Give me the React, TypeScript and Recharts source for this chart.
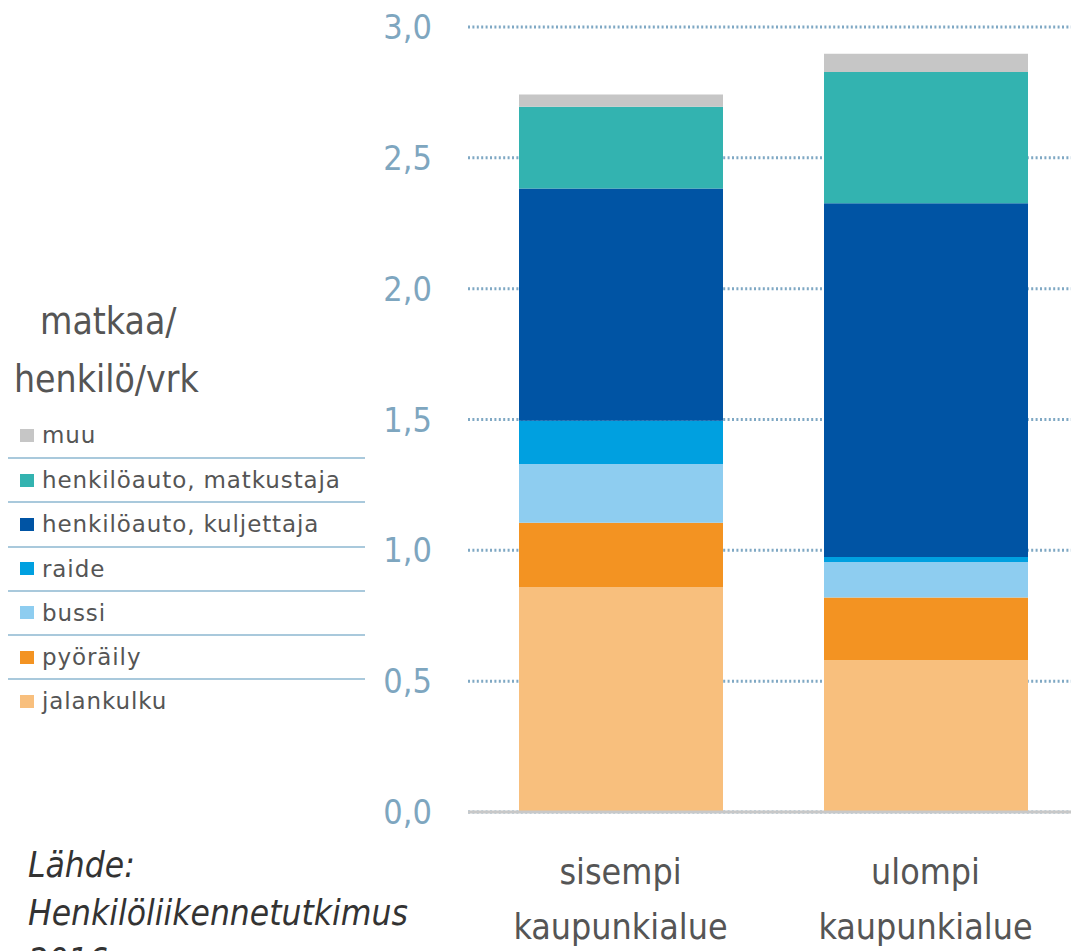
import React from "react";
import { Bar, BarChart, CartesianGrid, XAxis, YAxis } from "recharts";

const categories = ["sisempi kaupunkialue", "ulompi kaupunkialue"];
const jalankulku = [0.86, 0.58];
const pyoraily = [0.245, 0.24];
const bussi = [0.225, 0.135];
const raide = [0.165, 0.02];
const kuljettaja = [0.888, 1.351];
const matkustaja = [0.312, 0.502];
const muu = [0.047, 0.07];
const yTicks = [0, 0.5, 1, 1.5, 2, 2.5, 3];

const series = [
  { key: "jalankulku", name: "jalankulku", values: jalankulku, color: "#f8bf7d" },
  { key: "pyoraily", name: "pyöräily", values: pyoraily, color: "#f39322" },
  { key: "bussi", name: "bussi", values: bussi, color: "#8ecdf0" },
  { key: "raide", name: "raide", values: raide, color: "#00a0e0" },
  { key: "kuljettaja", name: "henkilöauto, kuljettaja", values: kuljettaja, color: "#0054a4" },
  { key: "matkustaja", name: "henkilöauto, matkustaja", values: matkustaja, color: "#33b3b0" },
  { key: "muu", name: "muu", values: muu, color: "#c6c6c6" },
];

const data = categories.map((cat, i) => {
  const row: Record<string, string | number> = { cat };
  series.forEach((s) => (row[s.key] = s.values[i]));
  return row;
});

const narrow = "'DejaVu Sans Condensed', 'DejaVu Sans', sans-serif";

function YTick({ x, y, payload }: any) {
  return (
    <text x={x} y={y} dy={12} textAnchor="end" fontFamily={narrow} fontStretch="condensed" fontSize={34} fill="#7ea6bf">
      {payload.value.toFixed(1).replace(".", ",")}
    </text>
  );
}

function XTick({ x, y, payload }: any) {
  const lines = String(payload.value).split(" ");
  return (
    <text x={x} y={y} textAnchor="middle" fontFamily={narrow} fontStretch="condensed" fontSize={35.5} fill="#555">
      {lines.map((l, i) => (
        <tspan key={i} x={x} dy={i === 0 ? 64 : 55}>
          {l}
        </tspan>
      ))}
    </text>
  );
}

function LegendBox() {
  const items = [...series].reverse();
  return (
    <div style={{ position: "absolute", left: 8, top: 413, width: 357 }}>
      {items.map((s, i) => (
        <div
          key={s.key}
          style={{
            height: 44.2,
            boxSizing: "border-box",
            borderTop: i === 0 ? "none" : "2px solid #a9c9dc",
            display: "flex",
            alignItems: "center",
            paddingLeft: 12,
            fontFamily: "'DejaVu Sans', sans-serif",
            fontSize: 23,
            letterSpacing: 0.9,
            color: "#555",
          }}
        >
          <span style={{ width: 14, height: 13, background: s.color, marginRight: 8, display: "inline-block" }} />
          {s.name}
        </div>
      ))}
    </div>
  );
}

export default function App() {
  const label = { position: "absolute" as const, fontFamily: narrow, fontStretch: "condensed", color: "#555" };
  return (
    <div style={{ position: "absolute", left: 0, top: 0, width: 1071, height: 951, background: "#fff", overflow: "hidden" }}>
      <div style={{ ...label, left: 40, top: 300, fontSize: 37 }}>matkaa/</div>
      <div style={{ ...label, left: 14, top: 358, fontSize: 37 }}>henkilö/vrk</div>
      <div style={{ ...label, left: 28, top: 841, fontStyle: "italic", fontSize: 35, color: "#333", lineHeight: "48px" }}>
        Lähde:
        <br />
        Henkilöliikennetutkimus
        <br />
        2016
      </div>
      <LegendBox />
      <div style={{ position: "absolute", left: 0, top: 0 }}>
        <BarChart width={1071} height={951} data={data} margin={{ top: 27, right: -7, left: 380, bottom: 0 }} barSize={204}>
          <CartesianGrid vertical={false} stroke="#7fa8c4" strokeWidth={3} strokeDasharray="2 2.4" />
          <XAxis dataKey="cat" tick={<XTick />} tickLine={false} axisLine={{ stroke: "#c8c8c8", strokeWidth: 3 }} interval={0} height={139} />
          <YAxis domain={[0, 3]} ticks={yTicks} tick={<YTick />} tickLine={false} axisLine={false} width={88} tickMargin={30} />
          {series.map((s) => (
            <Bar key={s.key} dataKey={s.key} name={s.name} stackId="a" fill={s.color} isAnimationActive={false} />
          ))}
        </BarChart>
      </div>
    </div>
  );
}
